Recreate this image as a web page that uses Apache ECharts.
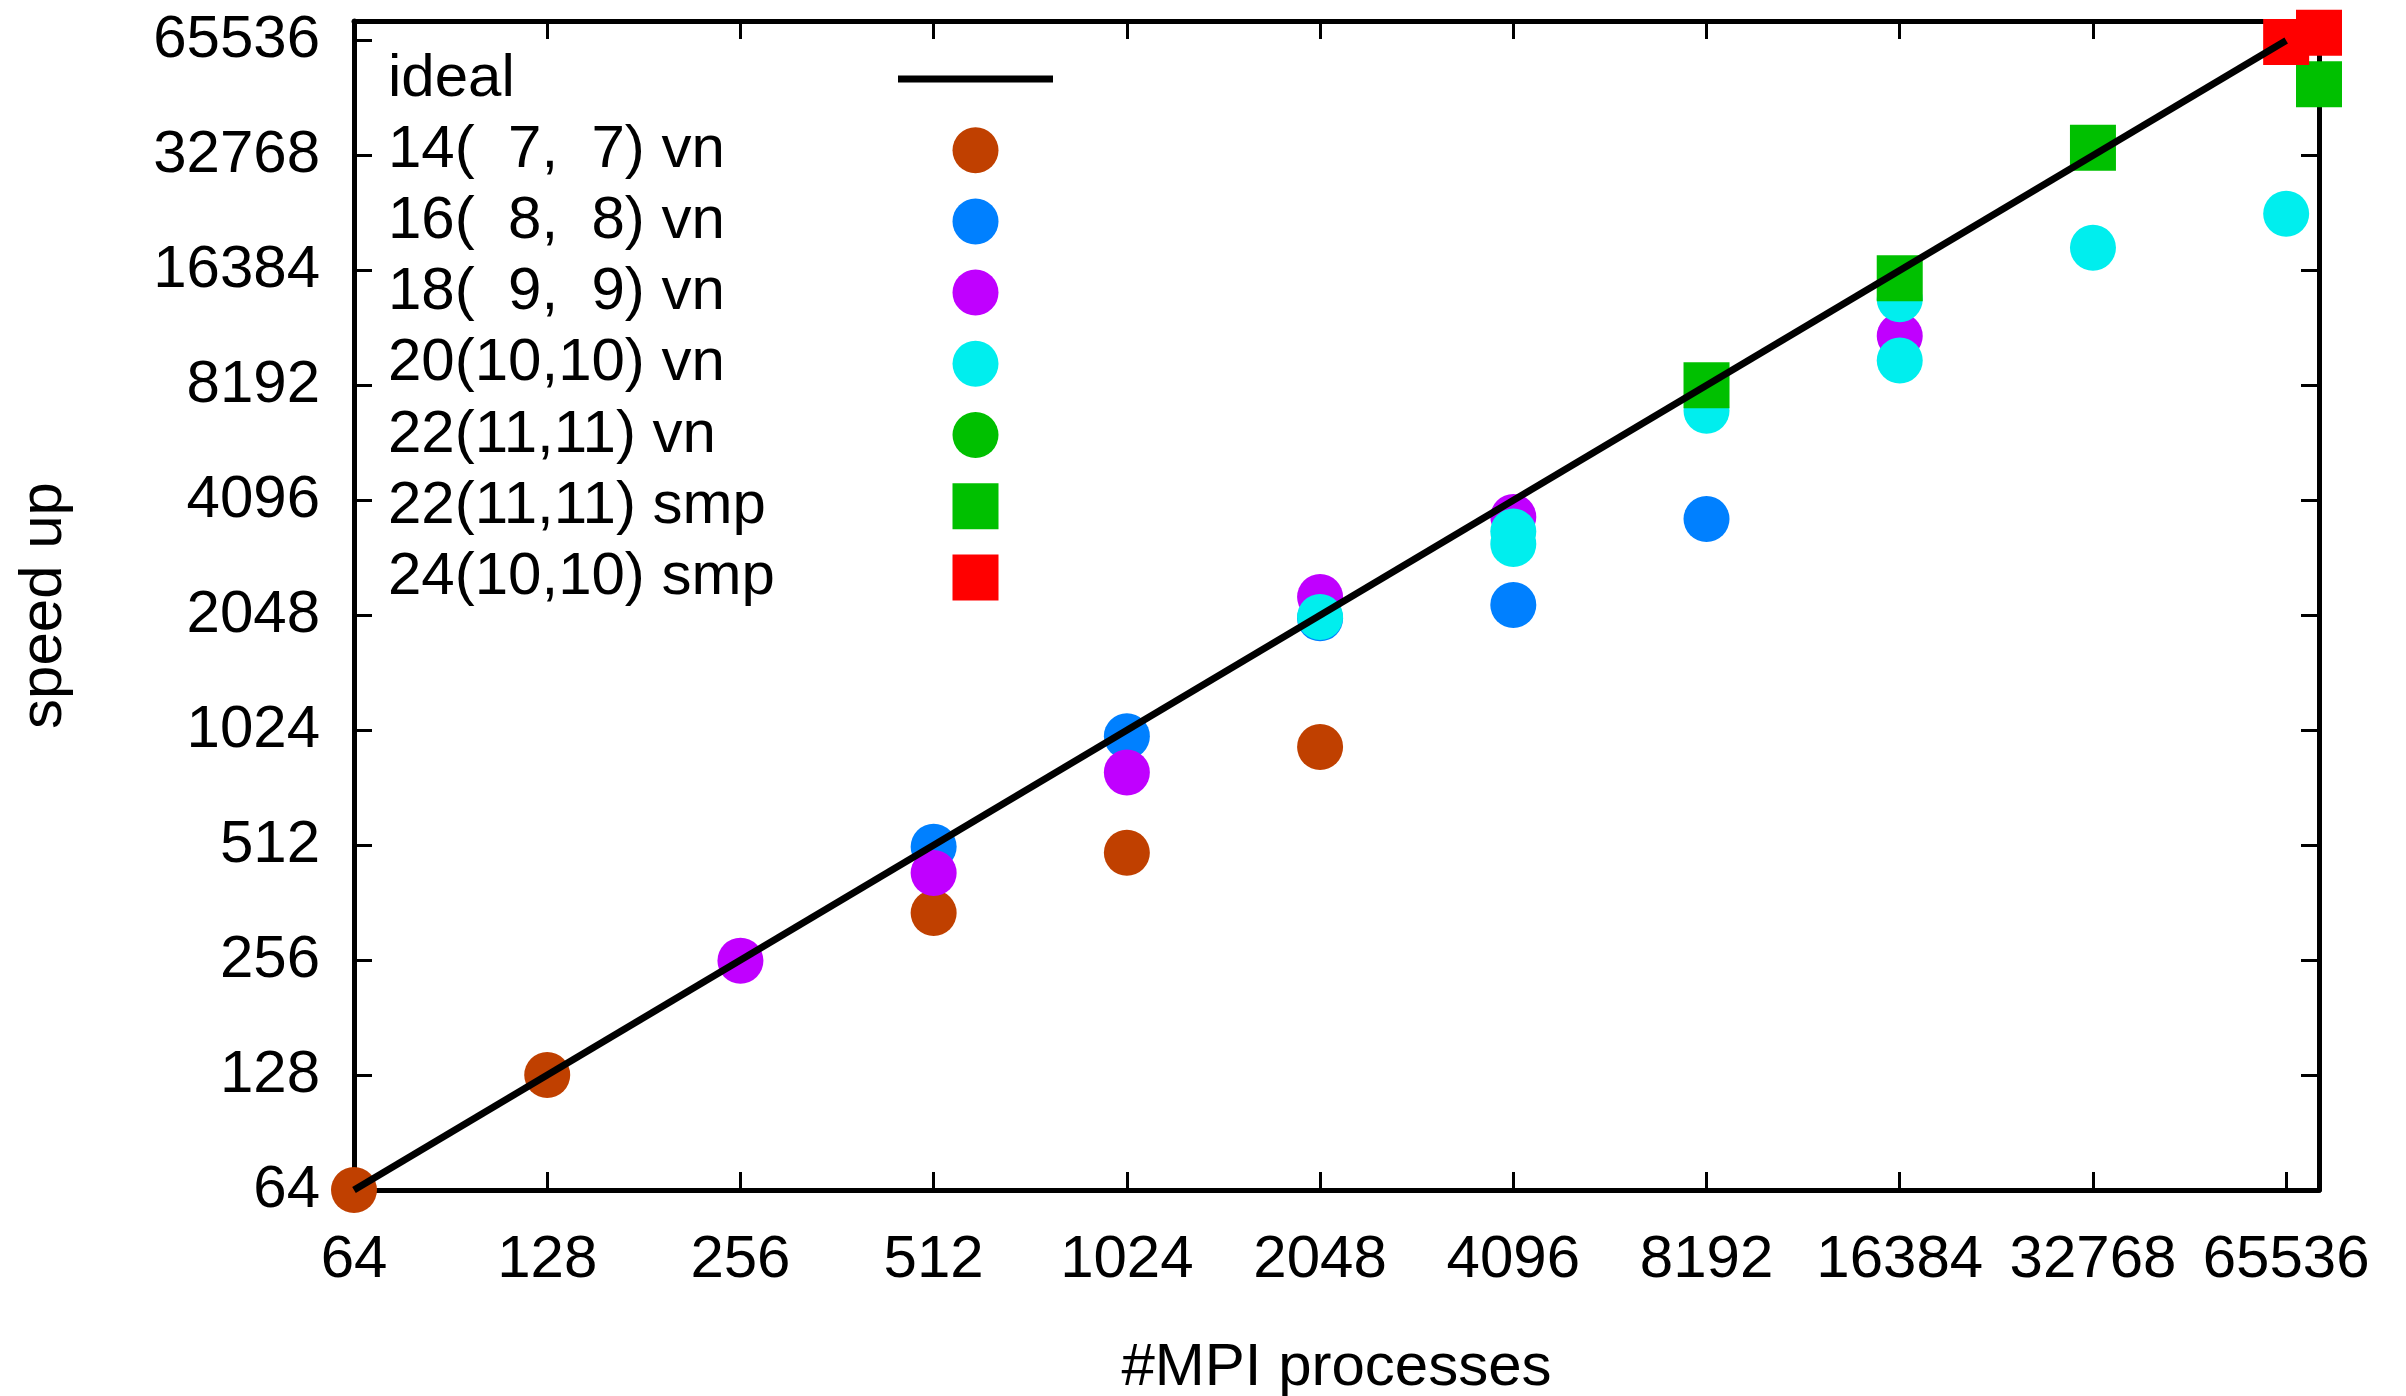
<!DOCTYPE html>
<html>
<head>
<meta charset="utf-8">
<title>speed up vs #MPI processes</title>
<script src="https://cdn.jsdelivr.net/npm/echarts@6/dist/echarts.min.js"></script>
<style>
  html, body { margin: 0; padding: 0; background: #ffffff; }
  #chart { width: 2406px; height: 1396px; }
</style>
</head>
<body>
<div id="chart"></div>
<script>
// Tick values shared by both log2 axes
const tickValues = [64, 128, 256, 512, 1024, 2048, 4096, 8192, 16384, 32768, 65536];
const axisMax = 73728;

// Ideal scaling reference
const idealX = [64, 65536];
const idealY = [64, 65536];

// 14(7,7) vn
const vn14X = [64, 128, 512, 1024, 2048];
const vn14Y = [64, 128, 340, 489, 926];

// 16(8,8) vn
const vn16X = [512, 1024, 2048, 4096, 8192];
const vn16Y = [507, 988, 2010, 2180, 3660];

// 18(9,9) vn
const vn18X = [256, 512, 1024, 2048, 4096, 16384];
const vn18Y = [255, 433, 794, 2287, 3705, 11030];

// 20(10,10) vn
const vn20X = [2048, 4096, 4096, 8192, 16384, 16384, 32768, 65536];
const vn20Y = [2027, 3393, 3146, 7030, 13770, 9520, 18780, 23060];

// 22(11,11) vn
const vn22X = [];
const vn22Y = [];

// 22(11,11) smp
const smp22X = [8192, 16384, 32768, 73728];
const smp22Y = [8200, 15630, 34330, 50330];

// 24(10,10) smp
const smp24X = [65536, 73728];
const smp24Y = [65000, 68700];

const FONT = 'Liberation Sans';
const FS = 60;

function pairs(xs, ys) { return xs.map((x, i) => [x, ys[i]]); }

function logAxis(extra) {
  return Object.assign({
    type: 'log',
    logBase: 2,
    min: 64,
    max: axisMax,
    axisLine: { show: true, lineStyle: { color: '#000', width: 5 } },
    axisTick: { show: true, inside: true, length: 18, lineStyle: { color: '#000', width: 3 }, customValues: tickValues },
    splitLine: { show: false },
    minorTick: { show: false },
    axisLabel: {
      show: true,
      customValues: tickValues,
      formatter: v => String(Math.round(v)),
      color: '#000',
      fontFamily: FONT,
      fontSize: FS
    }
  }, extra);
}

function scatter(name, xs, ys, symbol, color) {
  return {
    name: name,
    type: 'scatter',
    symbol: symbol,
    symbolSize: 46,
    symbolKeepAspect: true,
    itemStyle: { color: color, opacity: 1 },
    emphasis: { disabled: true },
    data: pairs(xs, ys)
  };
}

// legend markers that keep their aspect inside the wide legend slot
const SQUARE = 'path://M0,0H10V10H0Z';
const BAR = 'path://M0,0H155V7H0Z';

const chart = echarts.init(document.getElementById('chart'), null, { renderer: 'canvas' });

chart.setOption({
  animation: false,
  backgroundColor: '#ffffff',
  grid: { left: 354, right: 87, top: 21, bottom: 206, containLabel: false, outerBoundsMode: 'none' },
  legend: {
    show: true,
    orient: 'vertical',
    align: 'right',
    left: 388,
    top: 49,
    padding: 0,
    itemWidth: 155,
    itemHeight: 46,
    itemGap: 11.2,
    symbolKeepAspect: true,
    selectedMode: false,
    formatter: name => '{t|' + name + '}',
    textStyle: {
      color: '#000',
      fontFamily: FONT,
      fontSize: FS,
      rich: {
        t: { width: 505, align: 'left', fontFamily: FONT, fontSize: FS, color: '#000', lineHeight: 46 }
      }
    },
    data: [
      { name: 'ideal', icon: BAR },
      '14(  7,  7) vn', '16(  8,  8) vn', '18(  9,  9) vn', '20(10,10) vn',
      '22(11,11) vn',
      { name: '22(11,11) smp', icon: SQUARE },
      { name: '24(10,10) smp', icon: SQUARE }
    ]
  },
  xAxis: [
    logAxis({
      position: 'bottom',
      name: '#MPI processes',
      nameLocation: 'middle',
      nameGap: 148,
      nameTextStyle: { color: '#000', fontFamily: FONT, fontSize: FS },
      axisLabel: {
        show: true, customValues: tickValues, formatter: v => String(Math.round(v)),
        color: '#000', fontFamily: FONT, fontSize: FS, margin: 40
      }
    }),
    logAxis({ position: 'top', axisLabel: { show: false } })
  ],
  yAxis: [
    logAxis({
      position: 'left',
      name: 'speed up',
      nameLocation: 'middle',
      nameRotate: 90,
      nameGap: 280,
      nameTextStyle: { color: '#000', fontFamily: FONT, fontSize: FS },
      axisLabel: {
        show: true, customValues: tickValues, formatter: v => String(Math.round(v)),
        color: '#000', fontFamily: FONT, fontSize: FS, margin: 34
      }
    }),
    logAxis({ position: 'right', axisLabel: { show: false } })
  ],
  series: [
    {
      name: 'ideal',
      type: 'line',
      symbol: 'none',
      showSymbol: false,
      lineStyle: { color: '#000', width: 7 },
      itemStyle: { color: '#000' },
      emphasis: { disabled: true },
      data: pairs(idealX, idealY)
    },
    scatter('14(  7,  7) vn', vn14X, vn14Y, 'circle', '#c04000'),
    scatter('16(  8,  8) vn', vn16X, vn16Y, 'circle', '#0080ff'),
    scatter('18(  9,  9) vn', vn18X, vn18Y, 'circle', '#c000ff'),
    scatter('20(10,10) vn', vn20X, vn20Y, 'circle', '#00eeee'),
    scatter('22(11,11) vn', vn22X, vn22Y, 'circle', '#00c000'),
    scatter('22(11,11) smp', smp22X, smp22Y, 'rect', '#00c000'),
    scatter('24(10,10) smp', smp24X, smp24Y, 'rect', '#ff0000')
  ]
});
</script>
</body>
</html>
